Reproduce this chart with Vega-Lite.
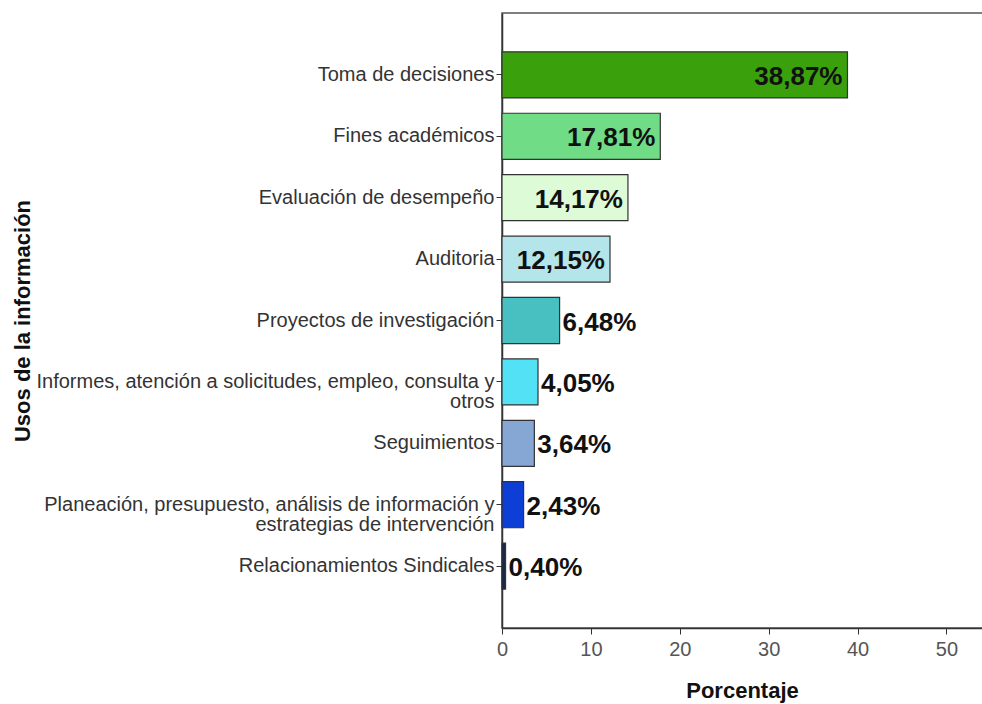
{
  "$schema": "https://vega.github.io/schema/vega-lite/v6.json",
  "width": 482,
  "height": 615,
  "autosize": "none",
  "padding": {"left": 502, "top": 13, "right": 0, "bottom": 76},
  "background": "white",
  "config": {
    "view": {"stroke": "#555555", "strokeWidth": 1.5},
    "font": "Liberation Sans"
  },
  "data": {
    "values": [
      {"uso": "Toma de decisiones", "pct": 38.87, "label": "38,87%", "color": "#3aa00c"},
      {"uso": "Fines académicos", "pct": 17.81, "label": "17,81%", "color": "#70dc86"},
      {"uso": "Evaluación de desempeño", "pct": 14.17, "label": "14,17%", "color": "#dcfbd6"},
      {"uso": "Auditoria", "pct": 12.15, "label": "12,15%", "color": "#b4e5ea"},
      {"uso": "Proyectos de investigación", "pct": 6.48, "label": "6,48%", "color": "#48bfc0"},
      {"uso": "Informes, atención a solicitudes, empleo, consulta y\notros", "pct": 4.05, "label": "4,05%", "color": "#52e1f5"},
      {"uso": "Seguimientos", "pct": 3.64, "label": "3,64%", "color": "#86a6d4"},
      {"uso": "Planeación, presupuesto, análisis de información y\nestrategias de intervención", "pct": 2.43, "label": "2,43%", "color": "#0d3ed6"},
      {"uso": "Relacionamientos Sindicales", "pct": 0.4, "label": "0,40%", "color": "#17294a"}
    ]
  },
  "encoding": {
    "y": {
      "field": "uso",
      "type": "nominal",
      "sort": null,
      "scale": {"paddingInner": 0.25, "paddingOuter": 0.633},
      "axis": {
        "title": "Usos de la información",
        "titleFont": "Liberation Sans",
        "titleFontSize": 22,
        "titleFontWeight": "bold",
        "titleColor": "#111111",
        "titleX": -480,
        "titleBaseline": "middle",
        "labelFont": "Liberation Sans",
        "labelFontSize": 20,
        "labelColor": "#333333",
        "labelLimit": 600,
        "labelPadding": 2,
        "labelLineHeight": 20,
        "labelExpr": "split(datum.label, '\\n')",
        "tickSize": 6,
        "tickColor": "#333333",
        "domainColor": "#333333",
        "domainWidth": 1.5
      }
    },
    "x": {
      "field": "pct",
      "type": "quantitative",
      "scale": {"domain": [0, 54.23], "nice": false},
      "axis": {
        "title": "Porcentaje",
        "titleFont": "Liberation Sans",
        "titleFontSize": 22,
        "titleFontWeight": "bold",
        "titleColor": "#111111",
        "titleX": 240,
        "titleY": 62,
        "titleBaseline": "middle",
        "values": [0, 10, 20, 30, 40, 50],
        "grid": false,
        "labelFont": "Liberation Sans",
        "labelFontSize": 20,
        "labelColor": "#555555",
        "labelPadding": 5,
        "labelFlush": false,
        "tickSize": 6,
        "tickColor": "#333333",
        "domainColor": "#333333",
        "domainWidth": 1.5
      }
    }
  },
  "layer": [
    {
      "mark": {"type": "bar", "stroke": "#333333", "strokeWidth": 1.2},
      "encoding": {
        "color": {"field": "color", "type": "nominal", "scale": null, "legend": null}
      }
    },
    {
      "transform": [{"filter": "datum.pct > 10"}],
      "mark": {"type": "text", "align": "right", "baseline": "middle", "dx": -5, "dy": 2, "font": "Liberation Sans", "fontSize": 26, "fontWeight": "bold", "color": "#111111"},
      "encoding": {"text": {"field": "label"}}
    },
    {
      "transform": [{"filter": "datum.pct <= 10"}],
      "mark": {"type": "text", "align": "left", "baseline": "middle", "dx": 3, "dy": 2, "font": "Liberation Sans", "fontSize": 26, "fontWeight": "bold", "color": "#111111"},
      "encoding": {"text": {"field": "label"}}
    }
  ]
}
